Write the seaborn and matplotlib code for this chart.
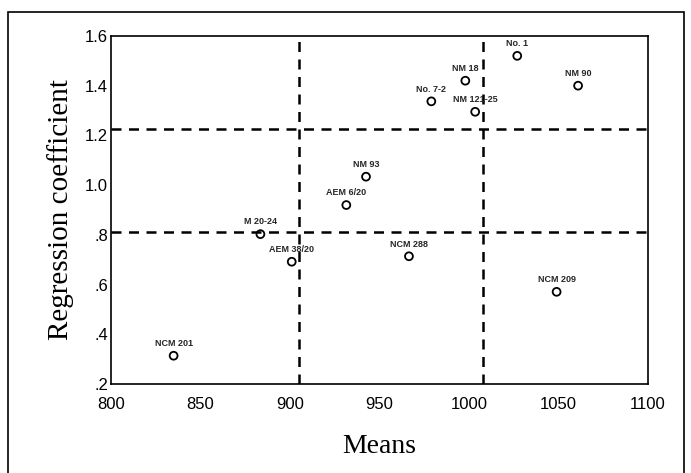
import matplotlib
matplotlib.use('Agg')
import matplotlib.pyplot as plt
import seaborn as sns
import pandas as pd
from matplotlib.patches import Rectangle

# data
genotypes = ['No. 1', 'NM 18', 'NM 90', 'No. 7-2', 'NM 121-25', 'NM 93',
             'AEM 6/20', 'M 20-24', 'AEM 38/20', 'NCM 288', 'NCM 209', 'NCM 201']
means = [1027, 998, 1061, 979, 1003.5, 942.5, 931.5, 883.5, 901, 966.5, 1049, 835]
reg_coef = [1.52, 1.42, 1.40, 1.337, 1.295, 1.034, 0.92, 0.803, 0.692, 0.714, 0.571, 0.314]

mean_cut = [905, 1008]
coef_cut = [0.81, 1.226]

xticks = [800, 850, 900, 950, 1000, 1050, 1100]
yticks = [0.2, 0.4, 0.6, 0.8, 1.0, 1.2, 1.4, 1.6]
ytick_labels = ['.2', '.4', '.6', '.8', '1.0', '1.2', '1.4', '1.6']

df = pd.DataFrame({'genotype': genotypes, 'mean': means, 'coef': reg_coef})

sns.set_style('white')
plt.rcParams['font.family'] = ['Liberation Sans', 'DejaVu Sans']

fig = plt.figure(figsize=(6.91, 4.73), dpi=100)
ax = fig.add_axes([0.1606, 0.188, 0.777, 0.736])

sns.scatterplot(data=df, x='mean', y='coef', marker='o', s=32,
                facecolor='none', edgecolor='black', linewidth=1.3, ax=ax, zorder=3)

for _, r in df.iterrows():
    ax.annotate(r['genotype'], (r['mean'], r['coef']), xytext=(0, 5.5),
                textcoords='offset points', ha='center', va='bottom',
                fontsize=6.5, fontweight='bold')

for v in mean_cut:
    ax.axvline(v, color='black', lw=1.8, ls=(0, (4, 3)), zorder=2)
for h in coef_cut:
    ax.axhline(h, color='black', lw=1.8, ls=(0, (4, 3)), zorder=2)

ax.set_xlim(800, 1100)
ax.set_ylim(0.2, 1.6)
ax.set_xticks(xticks)
ax.set_xticklabels([str(t) for t in xticks])
ax.set_yticks(yticks)
ax.set_yticklabels(ytick_labels)
ax.tick_params(labelsize=12, length=3, width=1, direction='in',
               colors='black', labelcolor='black')
ax.tick_params(axis='x', pad=9)
ax.tick_params(axis='y', pad=2)

for s in ax.spines.values():
    s.set_color('black')
    s.set_linewidth(1.2)

ax.set_xlabel('Means', family='Liberation Serif', fontsize=20, labelpad=16, color='black')
ax.set_ylabel('Regression coefficient', family='Liberation Serif', fontsize=21,
              labelpad=8, color='black')

# outer frame
fig.patches.append(Rectangle((8 / 691, -0.01), 676 / 691, (473 - 12) / 473 + 0.01,
                             transform=fig.transFigure, fill=False,
                             edgecolor='black', lw=1.2))

fig.savefig('out.png', dpi=100)
